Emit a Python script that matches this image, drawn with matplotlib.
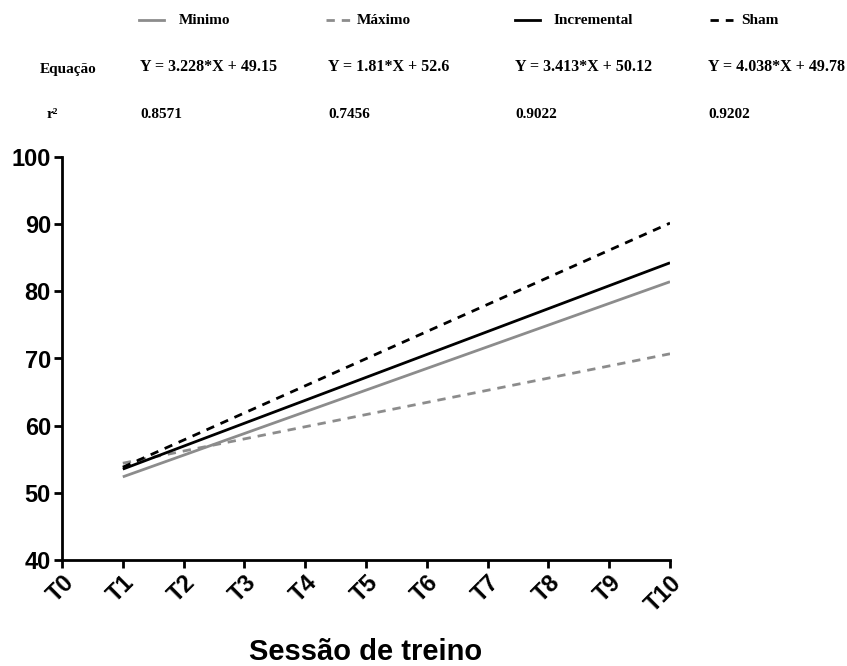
import matplotlib
matplotlib.use("Agg")
import matplotlib.pyplot as plt
import numpy as np

# regression results per group
groups = ["Minimo", "Máximo", "Incremental", "Sham"]
slopes = [3.228, 1.81, 3.413, 4.038]
intercepts = [49.15, 52.6, 50.12, 49.78]
r2 = ["0.8571", "0.7456", "0.9022", "0.9202"]
equations = ["Y = 3.228*X + 49.15", "Y = 1.81*X + 52.6",
             "Y = 3.413*X + 50.12", "Y = 4.038*X + 49.78"]
x_range = [1, 10]
tick_labels = ["T0", "T1", "T2", "T3", "T4", "T5", "T6", "T7", "T8", "T9", "T10"]

colors = ["#8c8c8c", "#8c8c8c", "black", "black"]
styles = ["-", (0, (3, 2.5)), "-", (0, (3, 2.5))]

fig = plt.figure(figsize=(8.47, 6.66), dpi=100)
ax = fig.add_axes([62/847, 1 - 560/666, (670 - 62)/847, (560 - 157)/666])

xs = np.array(x_range)
for i in range(len(groups)):
    ax.plot(xs, slopes[i]*xs + intercepts[i], color=colors[i],
            linestyle=styles[i], lw=2, solid_capstyle="butt")

ax.set_xlim(0, 10)
ax.set_ylim(40, 100)
ax.set_yticks(range(40, 101, 10))
ax.set_xticks(range(11))
ax.set_xticklabels(tick_labels, rotation=45, ha="right", va="top",
                   rotation_mode="anchor")
for lab in ax.get_xticklabels() + ax.get_yticklabels():
    lab.set_fontfamily("Liberation Sans")
    lab.set_fontweight("bold")
    lab.set_fontsize(17)
ax.spines["top"].set_visible(False)
ax.spines["right"].set_visible(False)
for s in ["left", "bottom"]:
    ax.spines[s].set_linewidth(2)
ax.tick_params(width=2, length=6, pad=2)
ax.set_xlabel("Sessão de treino", fontsize=21, fontweight="bold",
              family="Liberation Sans", labelpad=16)

# header table
serif = dict(family="Liberation Serif", fontweight="bold", fontsize=11.5,
             va="center", transform=fig.transFigure)
small = dict(serif, fontsize=11)
col_x = [140, 328, 515, 708]
leg_line = [(139, 164), (326, 350), (515, 540), (710, 733)]
leg_text = [179, 357, 554, 741]
for i in range(4):
    x0, x1 = leg_line[i]
    fig.add_artist(plt.Line2D([x0/847, x1/847], [1 - 20/666, 1 - 20/666],
                              color=colors[i], linestyle=styles[i], lw=2,
                              transform=fig.transFigure))
    fig.text(leg_text[i]/847, 1 - 20/666, groups[i], **small)
    fig.text(col_x[i]/847, 1 - 67/666, equations[i], **serif)
    fig.text(col_x[i]/847, 1 - 115/666, r2[i], **small)
fig.text(40/847, 1 - 70/666, "Equação", **small)
fig.text(47/847, 1 - 115/666, "r²", **small)

fig.savefig("out.png", dpi=100)
